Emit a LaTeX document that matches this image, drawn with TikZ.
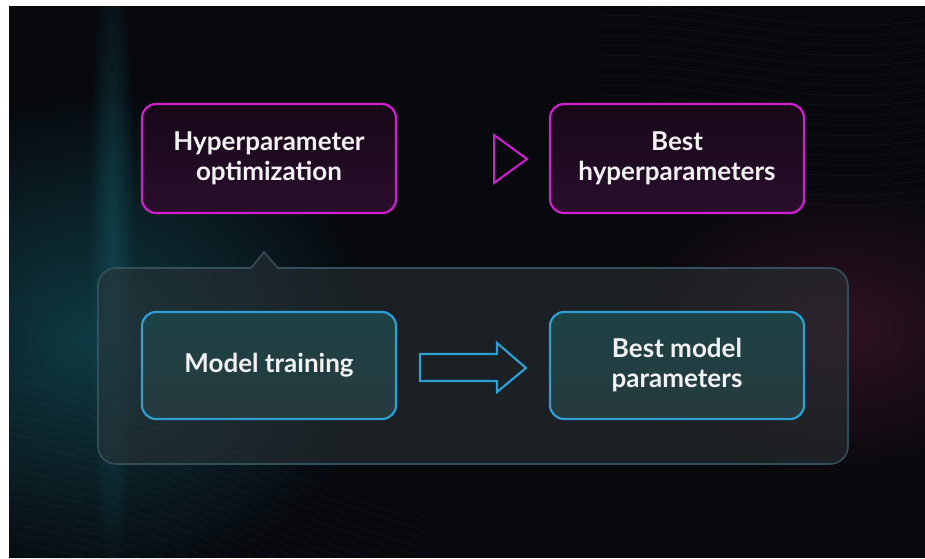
\documentclass[tikz,border=0pt]{standalone}
\usepackage{fontspec}
\setmainfont{Lato}
\usetikzlibrary{fadings}
\definecolor{bgdark}{HTML}{07090D}
\definecolor{tealglow}{HTML}{114650}
\definecolor{wineglow}{HTML}{3A1428}
\definecolor{magline}{HTML}{D21ED2}
\definecolor{magfillA}{HTML}{170819}
\definecolor{magfillB}{HTML}{2A0E2C}
\definecolor{cyanline}{HTML}{2E9FD4}
\definecolor{cyanfillA}{HTML}{1D4246}
\definecolor{cyanfillB}{HTML}{263A3E}
\definecolor{panelline}{HTML}{33505A}
\definecolor{panelfill}{HTML}{2B3336}
\definecolor{txt}{HTML}{F2F2F2}
\tikzset{
  boxtext/.style={text=txt, align=center, font=\bfseries\fontsize{26}{30}\selectfont},
  topbox/.style={draw=magline, line width=2.2pt, rounded corners=14pt,
    top color=magfillA, bottom color=magfillB,
    minimum width=254pt, minimum height=109pt, inner sep=0pt, boxtext},
  lowbox/.style={draw=cyanline, line width=2.2pt, rounded corners=14pt,
    top color=cyanfillA, bottom color=cyanfillB,
    minimum width=254pt, minimum height=107pt, inner sep=0pt, boxtext},
  panel/.style={draw=panelline, line width=1.6pt, fill=panelfill, fill opacity=0.55},
  wave/.style={draw=white, line width=0.5pt, opacity=0.05},
  glow/.style={fill=#1, path fading=fuzzycircle}
}
\tikzfading[name=fuzzycircle, inner color=transparent!20, outer color=transparent!100]
\begin{document}
\begin{tikzpicture}[x=1pt,y=-1pt]
  \useasboundingbox (0,0) rectangle (925,558);
  % backdrop
  \fill[white] (0,0) rectangle (925,558);
  \fill[bgdark] (9,6) rectangle (925,558);
  \begin{scope}
    \clip (9,6) rectangle (925,558);
    % teal glow on the left and a vertical beam
    \fill[glow=tealglow] (90,340) ellipse (290pt and 250pt);
    \fill[glow=tealglow] (112,260) ellipse (24pt and 320pt);
    % wine glow on the right
    \fill[glow=wineglow] (840,330) ellipse (230pt and 150pt);
    % faint wavy lines
    \foreach \k in {0,...,22}{
      \draw[wave] (9,{380+\k*9}) .. controls (150,{400+\k*9}) and (250,{470+\k*9}) .. (420,{520+\k*9});
    }
    \foreach \k in {0,...,18}{
      \draw[wave] (600,{6+\k*10}) .. controls (700,{0+\k*10}) and (800,{40+\k*10}) .. (925,{20+\k*10});
    }
  \end{scope}

  % panel holding the training stage, with a notch pointing up
  \path[panel, rounded corners=18pt]
    (98,366) |- (230,268) [sharp corners] -- (251,268) -- (264,252) -- (278,268) -- (300,268)
    [rounded corners=18pt] -| (848,366) |- (98,464) -- cycle;

  % stage boxes
  \node[topbox] (hpo) at (269,158.5) {Hyperparameter\\optimization};
  \node[topbox] (bhp) at (677,158.5) {Best\\hyperparameters};
  \node[lowbox] (mt)  at (269,365.5) {Model training};
  \node[lowbox] (bmp) at (677,365.5) {Best model\\parameters};

  % open triangle between the top boxes
  \draw[magline, line width=2pt, line join=miter]
    (494,135) -- (527,159) -- (494,183) -- cycle;

  % block arrow between the lower boxes
  \draw[cyanline, line width=2.2pt, line join=miter]
    (420,354) -- (497,354) -- (497,343) -- (526,368) -- (497,392) -- (497,381) -- (420,381) -- cycle;
\end{tikzpicture}
\end{document}
